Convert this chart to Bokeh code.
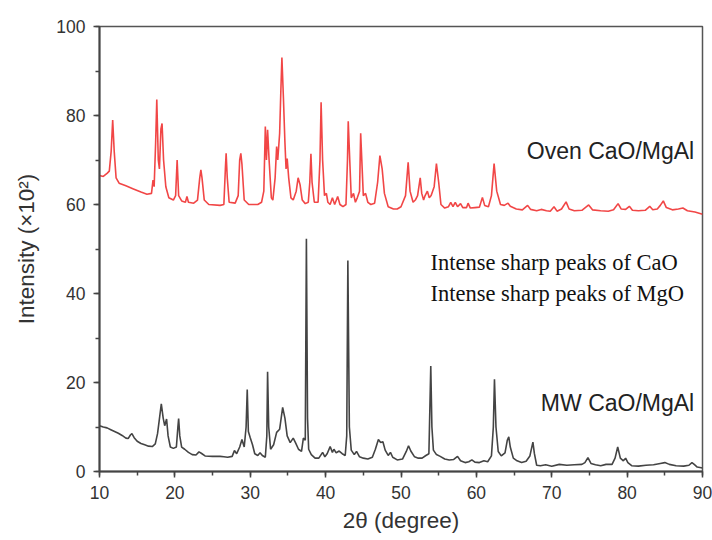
from bokeh.plotting import figure
from bokeh.models import Label, SingleIntervalTicker, Range1d
from bokeh.embed import file_html
from bokeh.resources import INLINE

# ---------------- data ----------------
oven_x = [10.0, 10.5, 11.0, 11.3, 11.55, 11.75, 11.95, 12.2, 12.6, 13.5, 14.5, 15.5, 16.3, 16.9,
          17.1, 17.25, 17.45, 17.6, 17.8, 17.95, 18.15, 18.3, 18.5, 18.8, 19.2, 19.8, 20.1, 20.3,
          20.5, 20.9, 21.4, 21.6, 21.8, 22.5, 23.0, 23.3, 23.45, 23.6, 23.9, 24.5, 26.0, 26.5,
          26.7, 26.8, 26.95, 27.2, 28.0, 28.4, 28.6, 28.75, 28.9, 29.2, 29.8, 31.0, 31.5, 31.8,
          32.0, 32.15, 32.3, 32.5, 32.8, 33.0, 33.3, 33.5, 33.65, 33.9, 34.05, 34.2, 34.4, 34.6,
          34.75, 34.9, 35.1, 35.4, 35.7, 36.1, 36.35, 36.6, 36.9, 37.3, 37.7, 37.9, 38.05, 38.2,
          38.5, 39.0, 39.25, 39.4, 39.6, 39.85, 40.1, 40.3, 40.6, 40.9, 41.2, 41.6, 41.9, 42.3,
          42.7, 42.9, 43.0, 43.2, 43.4, 43.7, 43.95, 44.2, 44.5, 44.65, 44.85, 45.0, 45.3, 45.6,
          46.0, 46.5, 46.9, 47.2, 47.5, 47.8, 48.3, 49.0, 49.5, 50.0, 50.6, 50.95, 51.2, 51.6,
          51.9, 52.2, 52.55, 52.75, 53.0, 53.2, 53.5, 53.75, 54.0, 54.4, 54.7, 55.0, 55.3, 55.8,
          56.3, 56.6, 56.9, 57.2, 57.5, 57.9, 58.2, 58.7, 58.9, 59.2, 59.8, 60.4, 60.8, 61.1,
          61.6, 62.0, 62.35, 62.7, 63.2, 63.7, 64.2, 64.5, 65.3, 66.1, 66.8, 67.2, 68.0, 68.6,
          69.3, 69.8, 70.3, 70.7, 71.3, 71.9, 72.3, 73.0, 74.0, 74.9, 75.4, 76.5, 77.5, 78.2,
          78.8, 79.2, 79.8, 80.3, 80.7, 81.5, 82.4, 83.0, 83.4, 84.0, 84.4, 84.8, 85.2, 86.0,
          86.8, 87.4, 88.0, 89.0, 90.0]
oven_y = [66.5, 66.3, 67.0, 67.5, 72.0, 79.0, 72.0, 66.0, 64.8, 64.2, 63.5, 62.8, 62.3, 62.5,
          65.5, 64.0, 74.0, 83.6, 70.0, 68.0, 77.0, 78.2, 70.0, 64.0, 61.5, 61.0, 62.0, 70.0,
          62.0, 60.8, 60.5, 61.8, 60.5, 60.3, 61.0, 66.0, 67.8, 66.0, 61.0, 60.0, 59.8, 60.0,
          68.0, 71.5, 66.0, 60.5, 60.3, 62.0, 70.0, 71.5, 69.0, 61.0, 60.0, 60.0, 60.5, 63.0,
          77.5, 70.0, 76.8, 70.0, 61.5, 61.0, 66.0, 73.0, 70.0, 76.0, 85.0, 93.0, 84.0, 74.0,
          68.0, 70.3, 66.0, 61.5, 61.0, 63.0, 66.0, 64.5, 61.0, 60.2, 60.5, 65.0, 71.4, 65.0,
          60.5, 60.5, 70.0, 83.0, 70.0, 62.0, 62.5, 60.5, 60.0, 61.5, 60.0, 61.8, 60.0, 59.5,
          60.0, 70.0, 78.7, 70.0, 61.5, 62.5, 60.5, 61.5, 63.0, 76.0, 68.0, 62.0, 62.5, 60.5,
          60.0, 60.3, 65.0, 71.0, 68.0, 62.5, 59.5, 59.0, 59.0, 59.5, 62.0, 69.5, 63.0, 60.5,
          61.0, 62.0, 66.0, 62.5, 61.0, 62.0, 63.0, 61.5, 62.0, 64.0, 69.2, 65.0, 60.0, 59.2,
          59.5, 60.5, 59.5, 60.5, 59.5, 60.2, 59.3, 59.3, 60.3, 59.2, 59.3, 59.4, 61.6, 59.8,
          59.5, 62.0, 69.2, 63.0, 60.0, 59.8, 60.3, 59.6, 59.0, 58.8, 59.8, 58.9, 58.6, 58.9,
          58.6, 58.5, 59.5, 58.5, 59.0, 60.6, 59.0, 58.6, 58.7, 59.9, 58.8, 58.6, 58.5, 58.8,
          60.2, 59.0, 58.9, 59.6, 58.7, 58.6, 58.7, 59.6, 58.8, 59.0, 59.8, 60.8, 59.3, 58.8,
          59.0, 59.2, 58.6, 58.3, 57.8]

mw_x = [10.0, 10.5, 11.0, 11.5, 12.0, 12.5, 13.0, 13.5, 13.8, 14.1, 14.3, 14.6, 15.0, 15.5,
        16.0, 16.5, 17.0, 17.4, 17.7, 18.0, 18.2, 18.45, 18.65, 18.9, 19.1, 19.4, 19.8, 20.2,
        20.4, 20.5, 20.65, 20.9, 21.3, 21.8, 22.3, 22.8, 23.2, 23.5, 24.0, 25.0, 26.0, 26.5,
        27.0, 27.6, 27.9, 28.2, 28.6, 28.9, 29.2, 29.45, 29.6, 29.75, 30.0, 30.3, 30.6, 31.0,
        31.3, 31.6, 32.0, 32.2, 32.3, 32.45, 32.7, 33.1, 33.5, 33.9, 34.3, 34.6, 34.9, 35.3,
        35.7, 36.0, 36.4, 36.8, 37.05, 37.3, 37.45, 37.6, 37.75, 38.1, 38.6, 39.1, 39.6, 39.9,
        40.2, 40.6, 40.9, 41.1, 41.4, 41.8, 42.2, 42.6, 42.8, 42.95, 43.15, 43.4, 43.8, 44.1,
        44.5, 45.0, 45.6, 46.2, 46.6, 47.0, 47.3, 47.6, 47.9, 48.3, 48.6, 48.9, 49.5, 50.2,
        50.7, 51.0, 51.3, 51.8, 52.3, 52.8, 53.3, 53.7, 53.95, 54.1, 54.3, 54.7, 55.2, 55.8,
        56.4, 57.0, 57.5, 57.9, 58.5, 59.0, 59.4, 59.8, 60.4, 61.0, 61.5, 62.0, 62.25, 62.4,
        62.6, 62.9, 63.3, 63.8, 64.1, 64.3, 64.5, 64.9, 65.4, 66.0, 66.6, 67.1, 67.5, 67.7,
        68.0, 68.5, 69.2, 70.0, 71.0, 72.0, 73.0, 74.0, 74.4, 74.8, 75.2, 75.8, 76.5, 77.2,
        78.0, 78.4, 78.75, 79.1, 79.5, 79.8, 80.1, 80.6, 81.5, 82.5, 83.5, 84.4, 85.0, 85.6,
        86.5, 87.5, 88.2, 88.6, 88.9, 89.3, 90.0]
mw_y = [10.3, 10.0, 9.8, 9.4, 9.0, 8.6, 8.1, 7.5, 7.4, 8.2, 8.5, 7.6, 6.8, 6.3,
        6.0, 5.7, 5.6, 6.2, 8.5, 12.5, 15.2, 12.0, 10.3, 11.8, 8.0, 5.5, 5.2, 5.5,
        10.0, 11.9, 8.0, 5.5, 5.0, 4.3, 3.8, 3.7, 4.4, 4.1, 3.5, 3.4, 3.4, 3.3,
        3.2, 3.4, 4.7, 4.0, 5.5, 7.2, 5.5, 10.0, 18.4, 9.0, 7.6, 6.0, 4.0, 3.6,
        4.2, 3.6, 3.2, 8.0, 22.4, 10.0, 5.0, 6.0, 8.8, 9.5, 14.4, 12.0, 8.0, 6.5,
        7.5, 6.5, 5.0, 4.5, 7.5, 7.0, 52.3, 12.0, 5.0, 3.8, 3.0, 3.0, 4.3, 3.3,
        4.0, 5.6, 4.3, 5.0, 4.2, 4.6, 4.0, 3.6, 8.0, 47.4, 10.0, 4.8, 3.8, 4.5,
        3.3, 3.0, 2.8, 3.2, 5.0, 7.2, 6.5, 6.7, 4.8, 3.6, 4.3, 3.2, 2.6, 2.8,
        4.5, 5.8, 4.6, 3.3, 3.0, 3.0, 3.6, 4.0, 23.7, 10.0, 4.8, 3.8, 3.4, 2.8,
        2.6, 2.7, 3.4, 2.4, 2.0, 2.2, 2.6, 2.1, 2.0, 2.4, 2.2, 3.5, 10.0, 20.7,
        10.0, 4.5, 3.5, 4.2, 7.0, 7.8, 5.5, 3.0, 2.4, 2.0, 2.3, 3.5, 6.6, 4.0,
        1.4, 1.3, 1.5, 1.2, 1.6, 1.4, 1.5, 1.6, 2.0, 3.1, 1.8, 1.5, 1.3, 1.6,
        1.6, 3.0, 5.5, 3.0, 2.4, 3.0, 2.0, 1.3, 1.2, 1.4, 1.5, 1.8, 2.0, 1.6,
        1.3, 1.2, 1.4, 2.0, 1.6, 1.0, 0.8]

x_ticks_interval = 10
y_ticks_interval = 20
series_labels = ["Oven CaO/MgAl", "MW CaO/MgAl"]
note_labels = ["Intense sharp peaks of CaO", "Intense sharp peaks of MgO"]

# ---------------- figure ----------------
p = figure(width=712, height=540, output_backend="svg", toolbar_location=None,
           x_range=Range1d(10, 90), y_range=Range1d(0, 100),
           min_border_left=99, min_border_right=10, min_border_top=26, min_border_bottom=69)
p.frame_width = 603
p.frame_height = 445

p.line(oven_x, oven_y, line_color="#f03c3c", line_width=1.6, line_alpha=0.95)
p.line(mw_x, mw_y, line_color="#444444", line_width=1.6)

p.xgrid.visible = False
p.ygrid.visible = False
p.outline_line_color = "#555555"
p.outline_line_width = 1.5

p.xaxis.ticker = SingleIntervalTicker(interval=x_ticks_interval, num_minor_ticks=2)
p.yaxis.ticker = SingleIntervalTicker(interval=y_ticks_interval, num_minor_ticks=2)

for ax in (p.xaxis[0], p.yaxis[0]):
    ax.axis_line_color = "#444444"
    ax.axis_line_width = 2
    ax.major_tick_line_color = "#444444"
    ax.major_tick_line_width = 1.5
    ax.minor_tick_line_color = "#444444"
    ax.minor_tick_line_width = 1.5
    ax.major_tick_in = 0
    ax.major_tick_out = 6
    ax.minor_tick_in = 0
    ax.minor_tick_out = 4
    ax.major_label_text_font = "Liberation Sans"
    ax.major_label_text_font_size = "17.5px"
    ax.major_label_text_color = "#333333"
    ax.axis_label_text_font = "Liberation Sans"
    ax.axis_label_text_font_size = "22.5px"
    ax.axis_label_text_font_style = "normal"
    ax.axis_label_text_color = "#333333"

p.xaxis.axis_label = "2θ (degree)"
p.yaxis.axis_label = "Intensity (×10²)"
p.xaxis.major_label_standoff = 8
p.xaxis.axis_label_standoff = 6
p.yaxis.major_label_standoff = 8
p.yaxis.axis_label_standoff = 14

p.add_layout(Label(x=88.9, y=72.1, text=series_labels[0], text_align="right",
                   text_baseline="middle", text_font="Liberation Sans",
                   text_font_size="23px", text_color="#222222"))
p.add_layout(Label(x=88.9, y=15.3, text=series_labels[1], text_align="right",
                   text_baseline="middle", text_font="Liberation Sans",
                   text_font_size="23px", text_color="#222222"))
p.add_layout(Label(x=53.9, y=47.0, text=note_labels[0], text_align="left",
                   text_baseline="middle", text_font="Liberation Serif",
                   text_font_size="22.5px", text_color="#111111"))
p.add_layout(Label(x=53.9, y=40.0, text=note_labels[1], text_align="left",
                   text_baseline="middle", text_font="Liberation Serif",
                   text_font_size="22.5px", text_color="#111111"))

open("out.html", "w").write(file_html(p, INLINE))
